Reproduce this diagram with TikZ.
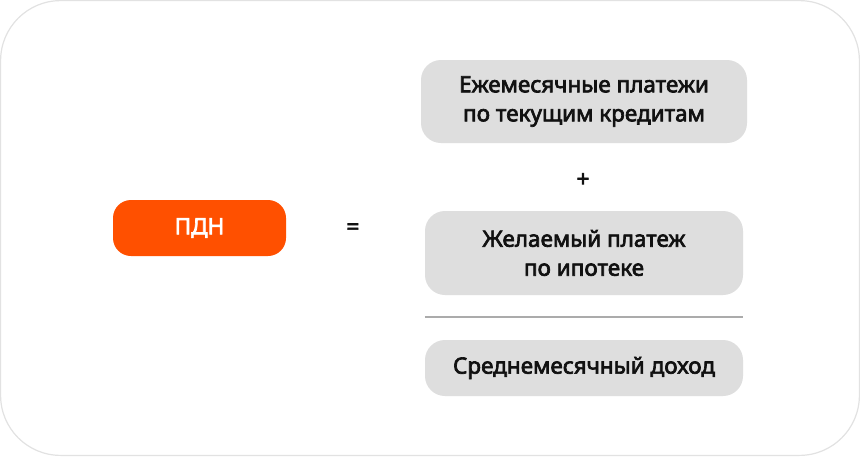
\documentclass[tikz,border=0pt]{standalone}
\usepackage{fontspec}
\setmainfont{Noto Sans}
\newfontfamily\medfont[FakeBold=3]{Noto Sans}
\usepackage{tikz}
\usetikzlibrary{positioning}
\definecolor{pdnorange}{HTML}{FF5000}
\definecolor{boxgray}{HTML}{DEDEDE}
\definecolor{framegray}{HTML}{E2E2E2}
\definecolor{rulegray}{HTML}{ABABAB}
\definecolor{textblack}{HTML}{111111}
\tikzset{
    termbox/.style={fill=boxgray, rounded corners=20pt, inner sep=0pt, align=center,
        text=textblack, font=\medfont\fontsize{22.5}{29}\selectfont},
    sign/.style={text=textblack, font=\medfont\fontsize{22.5}{29}\selectfont}
}

\begin{document}
\begin{tikzpicture}[x=1pt, y=-1pt]
    % outer frame
    \draw[framegray, line width=1.2pt, fill=white, rounded corners=60pt] (0.6, 0.6) rectangle (859.4, 455.4);
    \useasboundingbox (0, 0) rectangle (860, 456);

    \node[termbox, fill=pdnorange, text=white, rounded corners=18pt, minimum width=173pt, minimum height=56pt] (pdn) at (199.5, 228) {ПДН};
    \node[sign] (eq) at (353, 229) {=};

    \node[termbox, minimum width=326pt, minimum height=83pt] (loans) at (584, 101.5) {Ежемесячные платежи\\по текущим кредитам};
    \node[sign] (plus) at (583, 180) {+};
    \node[termbox, minimum width=318pt, minimum height=84pt] (mortgage) at (584, 253) {Желаемый платеж\\по ипотеке};
    \node[termbox, minimum width=318pt, minimum height=56pt] (income) at (584, 368) {Среднемесячный доход};

    % fraction bar
    \draw[rulegray, line width=1.6pt] (mortgage.south west) ++(0, 22) -- ++(318, 0);
\end{tikzpicture}
\end{document}
